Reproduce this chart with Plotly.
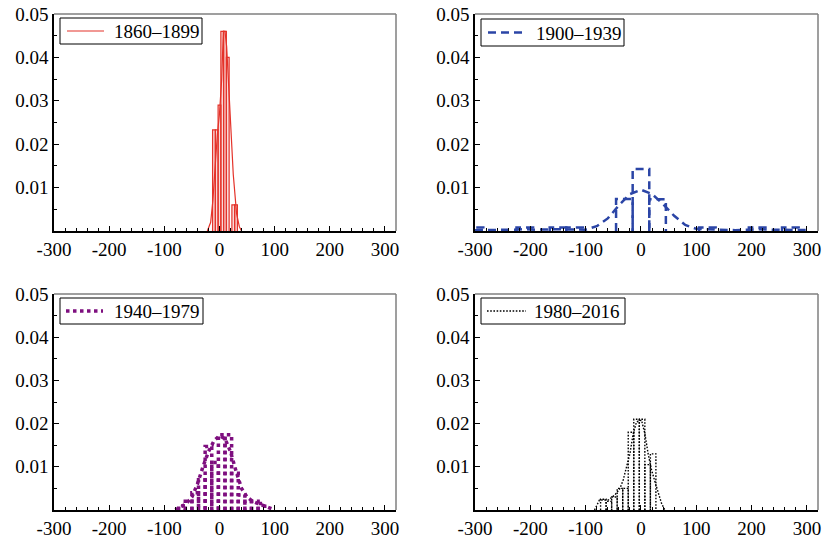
import plotly.graph_objects as go

# ---------------- data ----------------
x_tick_vals = [-300, -200, -100, 0, 100, 200, 300]
x_tick_text = ["-300", "-200", "-100", "0", "100", "200", "300"]
y_tick_vals = [0.01, 0.02, 0.03, 0.04, 0.05]
y_tick_text = ["0.01", "0.02", "0.03", "0.04", "0.05"]

labels = ["1860–1899", "1900–1939", "1940–1979", "1980–2016"]

# 1860-1899 histogram (bin width 5)
p1_width = 5
p1_left = [-12.5, -7.5, -2.5, 2.5, 7.5, 12.5, 22.5, 27.5]
p1_height = [0.0233, 0.0233, 0.029, 0.046, 0.046, 0.040, 0.006, 0.006]
p1_kde_x = [-22, -16, -12, -8, -4, 0, 4, 7, 10, 13, 17, 21, 25, 31, 36, 40]
p1_kde_y = [0, 0.002, 0.007, 0.015, 0.022, 0.027, 0.035, 0.046, 0.046, 0.0425,
            0.032, 0.0225, 0.013, 0.004, 0.001, 0]

# 1900-1939 histogram (bin width 30)
p2_width = 30
p2_left = [-315, -225, -165, -135, -45, -15, 15, 105, 195, 255]
p2_height = [0.0008, 0.0008, 0.0008, 0.0008, 0.0074, 0.0143, 0.0073, 0.0008, 0.0008, 0.0008]
p2_kde_x = [-300, -260, -230, -210, -190, -160, -140, -120, -100, -80, -60, -40, -20, 0,
            20, 40, 60, 80, 100, 120, 140, 170, 200, 215, 240, 270, 300]
p2_kde_y = [0.0002, 0.0002, 0.0003, 0.0004, 0.0003, 0.0004, 0.0004, 0.0003, 0.0003, 0.0011,
            0.0029, 0.0059, 0.0085, 0.0095, 0.0085, 0.0062, 0.0035, 0.0014, 0.0005, 0.0004,
            0.0003, 0.0002, 0.0003, 0.0004, 0.0003, 0.0003, 0.0002]

# 1940-1979 histogram (bin width 12)
p3_width = 12
p3_left = [-74, -62, -50, -38, -26, -14, -2, 10, 22, 34, 46, 58, 70]
p3_height = [0.001, 0.002, 0.004, 0.007, 0.0147, 0.011, 0.0174, 0.0174, 0.0085, 0.0035,
             0.002, 0.002, 0.0015]
p3_kde_x = [-80, -70, -60, -50, -40, -30, -20, -10, 0, 10, 20, 30, 40, 50, 60, 70, 80, 90, 100]
p3_kde_y = [0, 0.0008, 0.0015, 0.003, 0.006, 0.010, 0.0135, 0.016, 0.0172, 0.0165, 0.0135,
            0.009, 0.005, 0.003, 0.002, 0.0015, 0.001, 0.0004, 0]

# 1980-2016 histogram (bin width 10)
p4_width = 10
p4_left = [-73, -63, -53, -43, -33, -23, -13, -3, 7, 17]
p4_height = [0.0025, 0.002, 0.003, 0.005, 0.005, 0.018, 0.021, 0.021, 0.0105, 0.013]
p4_kde_x = [-84, -75, -59, -47, -38, -32, -26, -20, -14, -8, 1, 7, 13, 19, 28, 37, 43]
p4_kde_y = [0, 0.0023, 0.0023, 0.0035, 0.005, 0.007, 0.010, 0.013, 0.0177, 0.0204, 0.0208,
            0.0177, 0.013, 0.0093, 0.0054, 0.0016, 0]

# ---------------- styles ----------------
FONT = "Liberation Serif"
colors = ["#e4332a", "#2b45a6", "#7e0f7f", "#000000"]
dashes = ["solid", "8px,5px", "3.5px,3.5px", "1.6px,1.6px"]
widths = [1.2, 2.5, 3.5, 1.4]

fig = go.Figure()

panels = [
    (p1_left, p1_height, p1_width, p1_kde_x, p1_kde_y),
    (p2_left, p2_height, p2_width, p2_kde_x, p2_kde_y),
    (p3_left, p3_height, p3_width, p3_kde_x, p3_kde_y),
    (p4_left, p4_height, p4_width, p4_kde_x, p4_kde_y),
]

W, H = 826, 541
ML, MR, MT, MB = 30, 4, 6, 25
PW, PH = W - ML - MR, H - MT - MB


def fx(px):
    return (px - ML) / PW


def fy(py):
    return (H - MB - py) / PH


xdoms = [(fx(54), fx(396)), (fx(475), fx(818))]
ydoms = [(fy(231), fy(14)), (fy(510), fy(294))]
# legend boxes (pixel layout): box x0, x1, y0, y1; sample line x0, x1; text x
legend_boxes = [
    (60, 202, 18, 44, 67, 104, 112),
    (481, 624, 19, 46, 488, 524, 534),
    (60, 203, 298, 324, 66, 103, 112),
    (481, 625, 298, 324, 487, 526, 532),
]

for i, (left, height, w, kx, ky) in enumerate(panels):
    ax = "" if i == 0 else str(i + 1)
    xs, ys = [], []
    for l, h in zip(left, height):
        xs += [l, l, l + w, l + w, None]
        ys += [0, h, h, 0, None]
    if i == 0:
        fig.add_trace(go.Scatter(x=xs, y=ys, mode="lines", fill="toself",
                                 fillcolor="rgba(228,51,42,0.18)",
                                 line=dict(color=colors[i], width=1.2),
                                 xaxis="x" + ax, yaxis="y" + ax, showlegend=False,
                                 hoverinfo="skip"))
    else:
        fig.add_trace(go.Scatter(x=xs, y=ys, mode="lines",
                                 line=dict(color=colors[i], width=widths[i], dash=dashes[i]),
                                 xaxis="x" + ax, yaxis="y" + ax, showlegend=False,
                                 hoverinfo="skip"))
    fig.add_trace(go.Scatter(x=kx, y=ky, mode="lines", name=labels[i],
                             line=dict(color=colors[i], width=widths[i], dash=dashes[i]),
                             xaxis="x" + ax, yaxis="y" + ax, showlegend=False))

    r, c = divmod(i, 2)
    common = dict(showline=True, linecolor="black", linewidth=1.5, ticks="inside",
                  tickcolor="black", tickwidth=1, ticklen=5, showgrid=False, zeroline=False,
                  automargin=False,
                  tickfont=dict(family=FONT, size=19, color="black"))
    fig.layout["xaxis" + ax] = dict(
        domain=xdoms[c], anchor="y" + ax, range=[-300, 320], tickmode="array",
        tickvals=x_tick_vals, ticktext=x_tick_text,
        minor=dict(tickmode="linear", tick0=0, dtick=20, ticks="inside", ticklen=3,
                   tickcolor="black", tickwidth=1),
        **common)
    fig.layout["yaxis" + ax] = dict(
        domain=ydoms[r], anchor="x" + ax, range=[0, 0.05], tickmode="array",
        tickvals=y_tick_vals, ticktext=y_tick_text,
        minor=dict(tickmode="linear", tick0=0, dtick=0.005, ticks="inside", ticklen=3,
                   tickcolor="black", tickwidth=1),
        **common)
    # grey top and right frame
    fig.add_shape(type="line", xref=f"x{ax} domain", yref=f"y{ax} domain",
                  x0=0, x1=1, y0=1, y1=1, line=dict(color="#7f7f7f", width=1.5))
    fig.add_shape(type="line", xref=f"x{ax} domain", yref=f"y{ax} domain",
                  x0=1, x1=1, y0=0, y1=1, line=dict(color="#7f7f7f", width=1.5))

    # legend box with sample line and label
    bx0, bx1, by0, by1, lx0, lx1, tx = legend_boxes[i]
    ym = (by0 + by1) / 2
    fig.add_shape(type="rect", xref="paper", yref="paper",
                  x0=fx(bx0), x1=fx(bx1), y0=fy(by1), y1=fy(by0),
                  line=dict(color="black", width=1), fillcolor="white", layer="above")
    fig.add_shape(type="line", xref="paper", yref="paper",
                  x0=fx(lx0), x1=fx(lx1), y0=fy(ym), y1=fy(ym),
                  line=dict(color=colors[i], width=widths[i], dash=dashes[i]), layer="above")
    fig.add_annotation(xref="paper", yref="paper", x=fx(tx), y=fy(ym + 0.5),
                       xanchor="left", yanchor="middle", showarrow=False, text=labels[i],
                       font=dict(family=FONT, size=19, color="black"))

fig.update_layout(width=W, height=H, margin=dict(l=ML, r=MR, t=MT, b=MB, autoexpand=False),
                  plot_bgcolor="white", paper_bgcolor="white", showlegend=False,
                  font=dict(family=FONT, size=18, color="black"))

fig.write_html("out.html", config={"displayModeBar": False},
               post_script="document.body.style.margin='0px';document.body.style.overflow='hidden';")
